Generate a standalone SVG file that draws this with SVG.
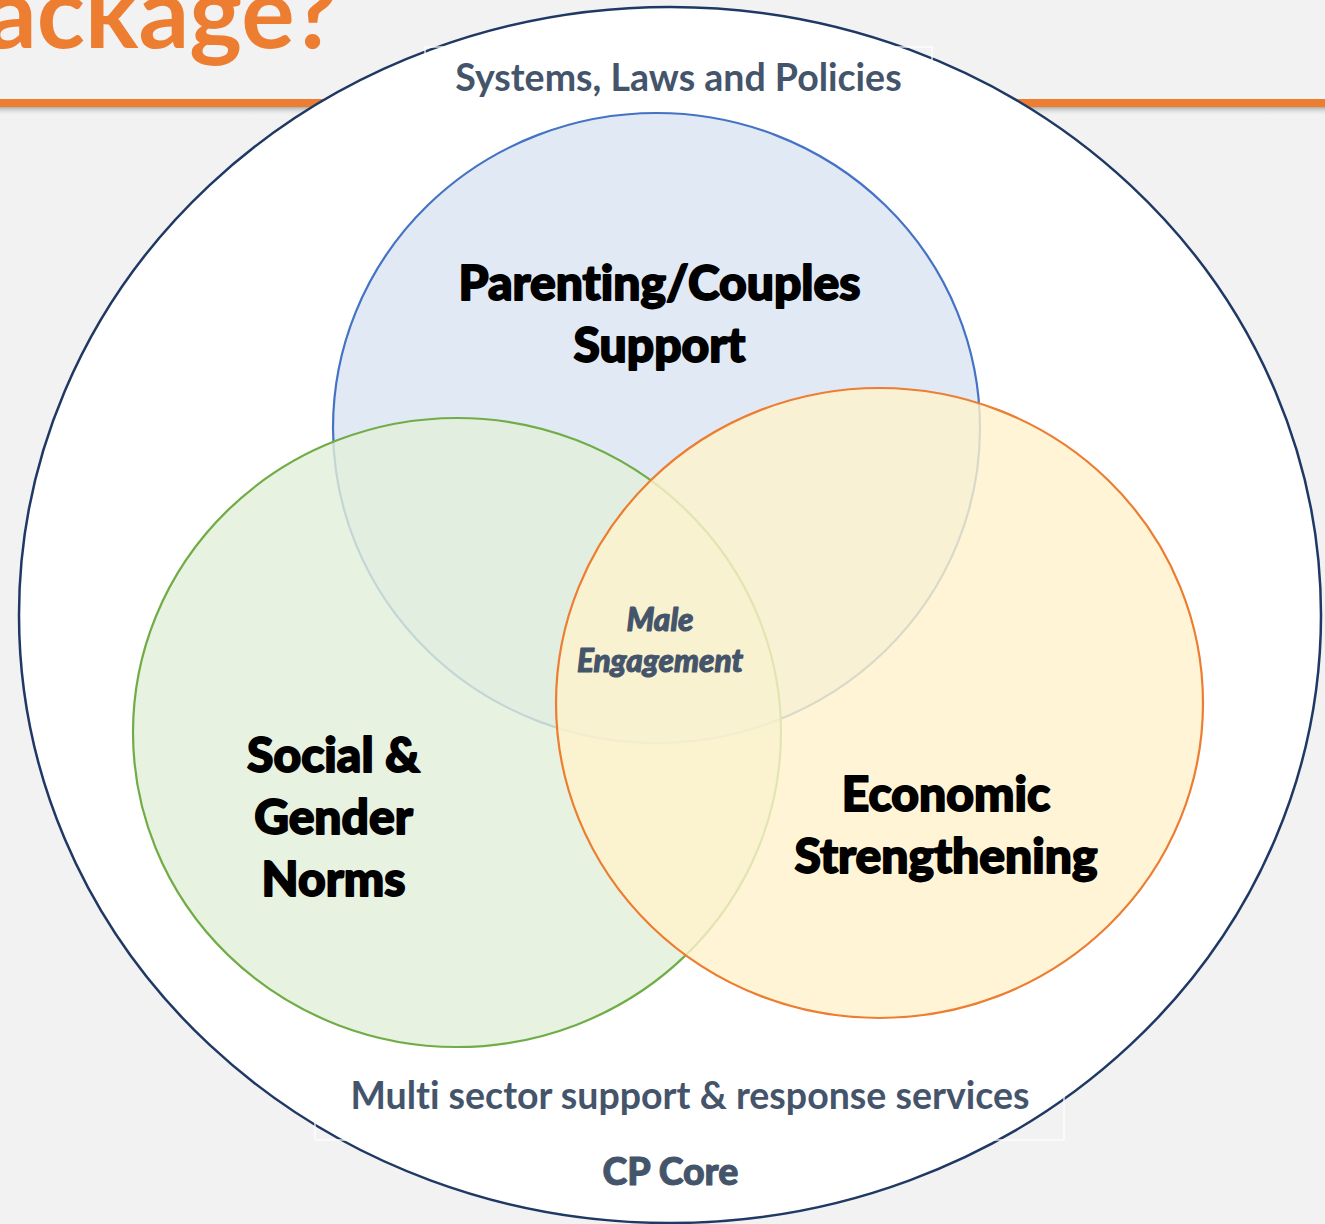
<svg xmlns="http://www.w3.org/2000/svg" width="1325" height="1224" viewBox="0 0 1325 1224">
  <defs>
    <linearGradient id="shadow" x1="0" y1="0" x2="0" y2="1">
      <stop offset="0" stop-color="#a6a6a6" stop-opacity="0.9"/>
      <stop offset="1" stop-color="#f2f2f2" stop-opacity="0"/>
    </linearGradient>
    <style>
      text { font-variant-ligatures: none; }
      .title { font-family: Lato, "Liberation Sans", sans-serif; font-weight: 700; fill: #ed7d31; }
      .big { font-family: Lato, "Liberation Sans", sans-serif; font-weight: 900; font-size: 48px; fill: #000000; stroke: #000000; stroke-width: 1.8px; stroke-linejoin: round; text-anchor: middle; }
      .ring { font-family: Lato, "Liberation Sans", sans-serif; font-weight: 700; font-size: 37.5px; fill: #44546a; text-anchor: middle; }
      .core { font-family: Lato, "Liberation Sans", sans-serif; font-weight: 900; font-size: 37.5px; fill: #44546a; stroke: #44546a; stroke-width: 1px; stroke-linejoin: round; text-anchor: middle; }
      .male { font-family: Lato, "Liberation Sans", sans-serif; font-weight: 900; font-style: italic; font-size: 31.5px; fill: #44546a; stroke: #44546a; stroke-width: 1px; stroke-linejoin: round; text-anchor: middle; }
      .box { fill: none; stroke: #ffffff; stroke-width: 1.2; }
      .venn { stroke-width: 2.2; }
    </style>
  </defs>

  <rect x="0" y="0" width="1325" height="1224" fill="#f2f2f2"/>

  <g id="header">
    <text class="title" x="338" y="48" font-size="100" text-anchor="end">ackage?</text>
    <rect x="0" y="107" width="1325" height="9" fill="url(#shadow)"/>
    <rect x="0" y="99" width="1325" height="8" fill="#ed7d31"/>
  </g>

  <g id="cp-core">
    <ellipse cx="670" cy="615" rx="651" ry="608" fill="#ffffff" stroke="#1f3864" stroke-width="2.5"/>
    <rect class="box" x="425" y="47" width="507" height="60"/>
    <rect class="box" x="315" y="1070" width="749" height="70"/>
    <text class="ring" x="678.5" y="91">Systems, Laws and Policies</text>
    <text class="ring" x="690" y="1109">Multi sector support &amp; response services</text>
    <text class="core" x="670.5" y="1185">CP Core</text>
  </g>

  <g id="parenting">
    <ellipse class="venn" cx="656.5" cy="428" rx="323.5" ry="315" fill="#dae3f3" fill-opacity="0.8" stroke="#4472c4"/>
    <text class="big" x="659.5" y="300">Parenting/Couples</text>
    <text class="big" x="659.5" y="362">Support</text>
  </g>

  <g id="social">
    <ellipse class="venn" cx="457" cy="732.5" rx="324" ry="314.5" fill="#e2efd9" fill-opacity="0.8" stroke="#70ad47"/>
    <text class="big" x="333.5" y="772">Social &amp;</text>
    <text class="big" x="333.5" y="834">Gender</text>
    <text class="big" x="333.5" y="896">Norms</text>
  </g>

  <g id="economic">
    <ellipse class="venn" cx="879.5" cy="703" rx="323.5" ry="315" fill="#fff2cc" fill-opacity="0.8" stroke="#ed7d31"/>
    <text class="big" x="946" y="811">Economic</text>
    <text class="big" x="946" y="873">Strengthening</text>
  </g>

  <g id="male-engagement">
    <text class="male" x="660" y="631">Male</text>
    <text class="male" x="660" y="672">Engagement</text>
  </g>

  <g id="connectors"></g>
</svg>
